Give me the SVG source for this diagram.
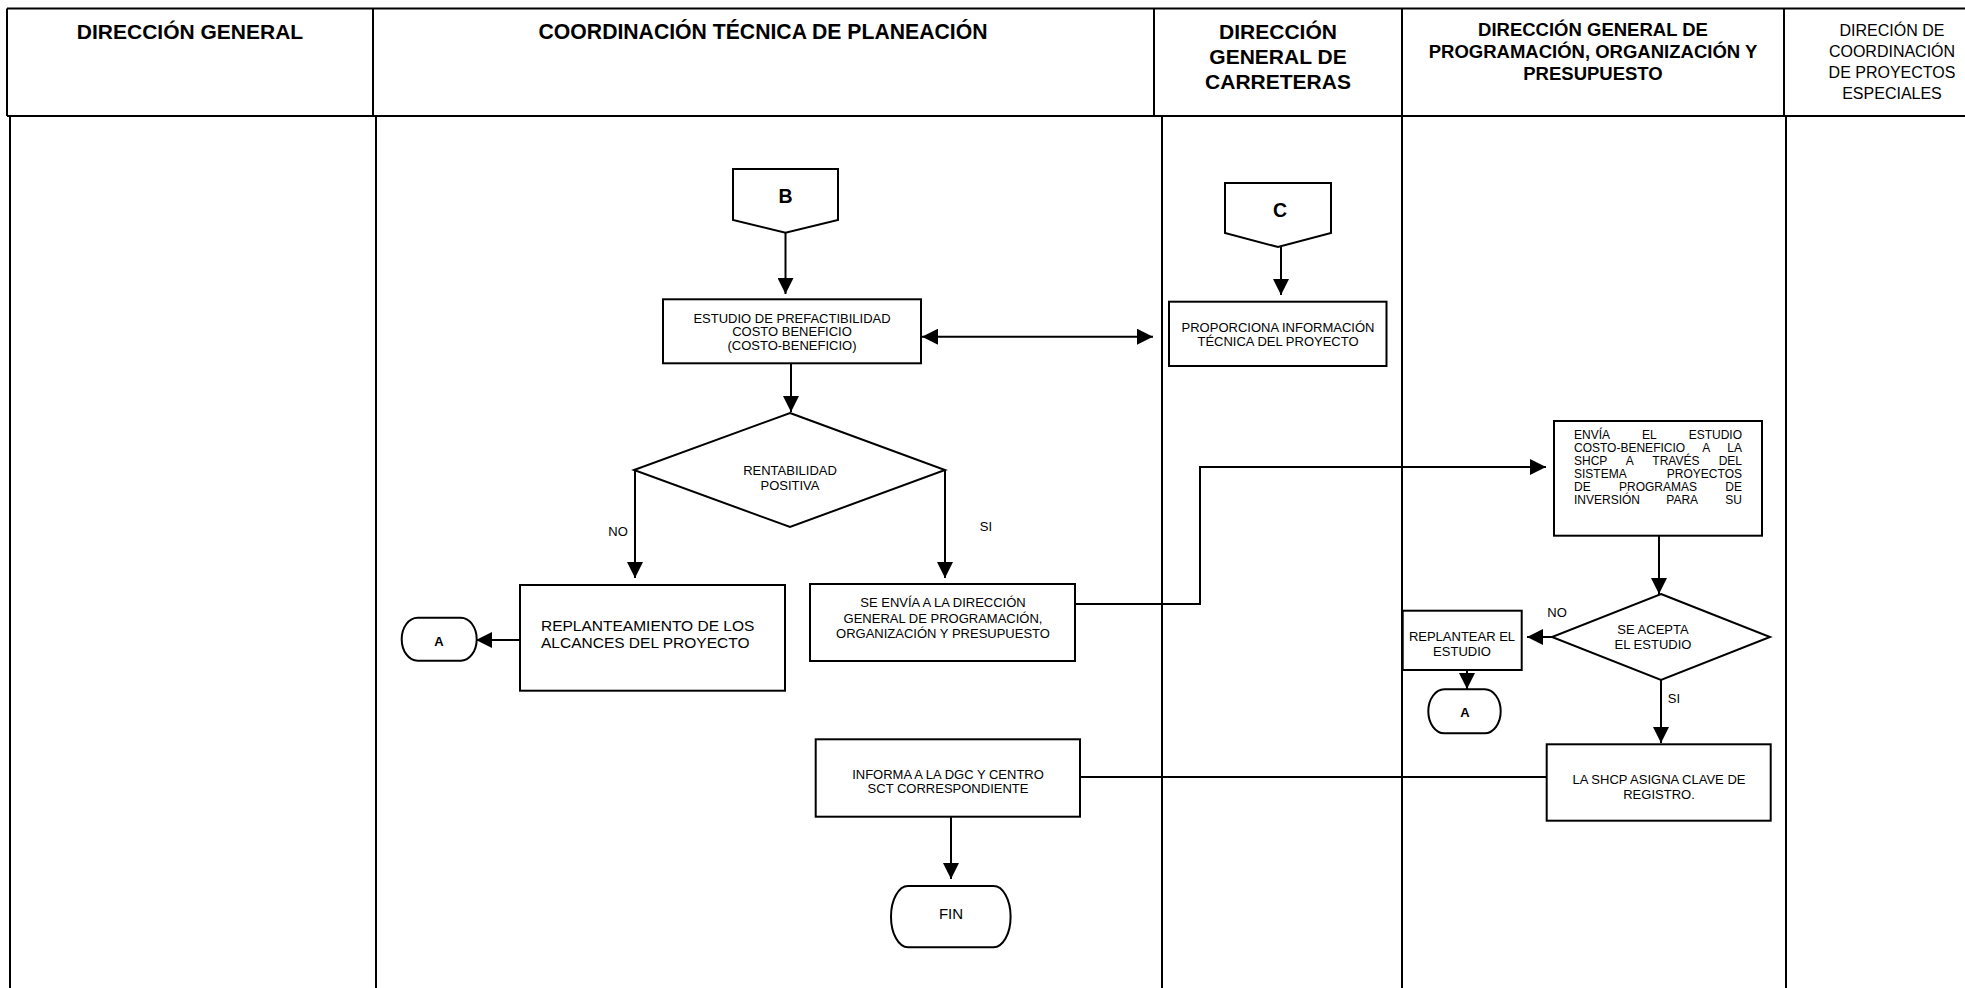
<svg xmlns="http://www.w3.org/2000/svg" width="1965" height="988" viewBox="0 0 1965 988">
<style>
.lane{stroke:#000;stroke-width:2;fill:none}
.shape{fill:#fff;stroke:#000;stroke-width:2}
.conn{stroke:#000;stroke-width:2;fill:none}
.hb{font-family:"Liberation Sans",Arial,sans-serif;font-weight:bold;text-anchor:middle;fill:#000}
.hr{font-family:"Liberation Sans",Arial,sans-serif;text-anchor:middle;fill:#000}
.t{font-family:"Liberation Sans",Arial,sans-serif;font-size:13px;text-anchor:middle;fill:#000}
.j{font-family:"Liberation Sans",Arial,sans-serif;font-size:12px;fill:#000}
</style>
<defs>
<marker id="ah" viewBox="0 0 16 16" refX="16" refY="8" markerWidth="16" markerHeight="16" markerUnits="userSpaceOnUse" orient="auto-start-reverse">
<path d="M0,0 L16,8 L0,16 z" fill="#000"/>
</marker>
</defs>
<rect width="1965" height="988" fill="#fff"/>
<g id="lanes">
<path class="lane" d="M7,8.5 H1965 M7,8.5 V116 M7,116 H1965 M373,8.5 V116 M1154,8.5 V116 M1402,8.5 V116 M1784,8.5 V116"/>
<path class="lane" d="M10,116 V988 M376,116 V988 M1162,116 V988 M1402,116 V988 M1786,116 V988"/>
<text class="hb" font-size="21" x="190" y="38.5">DIRECCIÓN GENERAL</text>
<text class="hb" font-size="21.2" x="763" y="38.5">COORDINACIÓN TÉCNICA DE PLANEACIÓN</text>
<text class="hb" font-size="21" x="1278" y="38.5">DIRECCIÓN</text>
<text class="hb" font-size="21" x="1278" y="63.5">GENERAL DE</text>
<text class="hb" font-size="21" x="1278" y="88.5">CARRETERAS</text>
<text class="hb" font-size="18.5" x="1593" y="35.5">DIRECCIÓN GENERAL DE</text>
<text class="hb" font-size="18.5" x="1593" y="57.5">PROGRAMACIÓN, ORGANIZACIÓN Y</text>
<text class="hb" font-size="18.5" x="1593" y="79.5">PRESUPUESTO</text>
<text class="hr" font-size="16" x="1892" y="36">DIRECIÓN DE</text>
<text class="hr" font-size="16" x="1892" y="57">COORDINACIÓN</text>
<text class="hr" font-size="16" x="1892" y="78">DE PROYECTOS</text>
<text class="hr" font-size="16" x="1892" y="99">ESPECIALES</text>
</g>
<g id="connectors">
<path class="conn" d="M785.5,233 V294" marker-end="url(#ah)"/>
<path class="conn" d="M1281,247 V295" marker-end="url(#ah)"/>
<path class="conn" d="M922,336.7 H1153" marker-start="url(#ah)" marker-end="url(#ah)"/>
<path class="conn" d="M791,364 V412" marker-end="url(#ah)"/>
<path class="conn" d="M635,470 V578" marker-end="url(#ah)"/>
<path class="conn" d="M945,470 V578" marker-end="url(#ah)"/>
<path class="conn" d="M520,640 H476" marker-end="url(#ah)"/>
<path class="conn" d="M1075,604 H1200 V467 H1546" marker-end="url(#ah)"/>
<path class="conn" d="M1659,536 V594" marker-end="url(#ah)"/>
<path class="conn" d="M1552,637 H1527" marker-end="url(#ah)"/>
<path class="conn" d="M1467,670 V689" marker-end="url(#ah)"/>
<path class="conn" d="M1661,680 V743" marker-end="url(#ah)"/>
<path class="conn" d="M1547,777 H1080"/>
<path class="conn" d="M951,817 V879" marker-end="url(#ah)"/>
<text class="t" x="618" y="535.5">NO</text>
<text class="t" x="986" y="530.5">SI</text>
<text class="t" x="1557" y="617">NO</text>
<text class="t" x="1674" y="703">SI</text>
</g>
<g id="node-b">
<polygon class="shape" points="733,169 838,169 838,220 785.5,232.7 733,220"/>
<text class="hb" font-size="19.5" x="785.5" y="203.3">B</text>
</g>
<g id="node-c">
<polygon class="shape" points="1225,183 1331,183 1331,233 1278,247 1225,233"/>
<text class="hb" font-size="19.5" x="1280" y="217">C</text>
</g>
<g id="node-estudio">
<rect class="shape" x="663" y="299.3" width="258" height="64"/>
<text class="t" x="792" y="322.6">ESTUDIO DE PREFACTIBILIDAD</text>
<text class="t" x="792" y="336.1">COSTO BENEFICIO</text>
<text class="t" x="792" y="349.6">(COSTO-BENEFICIO)</text>
</g>
<g id="node-proporciona">
<rect class="shape" x="1169" y="301.7" width="217.5" height="64.3"/>
<text class="t" x="1278" y="331.6">PROPORCIONA INFORMACIÓN</text>
<text class="t" x="1278" y="345.6">TÉCNICA DEL PROYECTO</text>
</g>
<g id="node-rentabilidad">
<polygon class="shape" points="790,413 945,470 790,527 634,470"/>
<text class="t" x="790" y="475">RENTABILIDAD</text>
<text class="t" x="790" y="490">POSITIVA</text>
</g>
<g id="node-replanteamiento">
<rect class="shape" x="520" y="585" width="265" height="105.7"/>
<text font-family="Liberation Sans, Arial, sans-serif" font-size="15.5" x="541" y="630.7">REPLANTEAMIENTO DE LOS</text>
<text font-family="Liberation Sans, Arial, sans-serif" font-size="15.5" x="541" y="648.4">ALCANCES DEL PROYECTO</text>
</g>
<g id="node-a1">
<rect class="shape" x="401.7" y="617.7" width="75" height="43" rx="16" ry="21.5"/>
<text class="hb" font-size="13" x="439" y="646">A</text>
</g>
<g id="node-seenvia">
<rect class="shape" x="810" y="584" width="265" height="77"/>
<text class="t" x="943" y="607.3">SE ENVÍA A LA DIRECCIÓN</text>
<text class="t" x="943" y="622.6">GENERAL DE PROGRAMACIÓN,</text>
<text class="t" x="943" y="637.6">ORGANIZACIÓN Y PRESUPUESTO</text>
</g>
<g id="node-envia">
<rect class="shape" x="1554" y="421" width="208" height="114.7"/>
<text class="j" y="439.3"><tspan x="1574">ENVÍA</tspan><tspan x="1642">EL</tspan><tspan x="1742" text-anchor="end">ESTUDIO</tspan></text>
<text class="j" y="452.3"><tspan x="1574">COSTO-BENEFICIO</tspan><tspan x="1702.2">A</tspan><tspan x="1742" text-anchor="end">LA</tspan></text>
<text class="j" y="465.3"><tspan x="1574">SHCP</tspan><tspan x="1625.8">A</tspan><tspan x="1652.3">TRAVÉS</tspan><tspan x="1742" text-anchor="end">DEL</tspan></text>
<text class="j" y="478.3"><tspan x="1574">SISTEMA</tspan><tspan x="1742" text-anchor="end">PROYECTOS</tspan></text>
<text class="j" y="491.3"><tspan x="1574">DE</tspan><tspan x="1619">PROGRAMAS</tspan><tspan x="1742" text-anchor="end">DE</tspan></text>
<text class="j" y="504.3"><tspan x="1574">INVERSIÓN</tspan><tspan x="1666.3">PARA</tspan><tspan x="1742" text-anchor="end">SU</tspan></text>
</g>
<g id="node-seacepta">
<polygon class="shape" points="1661,594 1770,637 1661,680 1552,637"/>
<text class="t" x="1653" y="633.9">SE ACEPTA</text>
<text class="t" x="1653" y="648.6">EL ESTUDIO</text>
</g>
<g id="node-replantear">
<rect class="shape" x="1402.7" y="610.7" width="119" height="59.3"/>
<text class="t" x="1462" y="641.3">REPLANTEAR EL</text>
<text class="t" x="1462" y="655.6">ESTUDIO</text>
</g>
<g id="node-a2">
<rect class="shape" x="1428.3" y="689.3" width="72.4" height="44" rx="16" ry="22"/>
<text class="hb" font-size="13" x="1465" y="717">A</text>
</g>
<g id="node-shcp">
<rect class="shape" x="1546.7" y="744.3" width="224" height="76.4"/>
<text class="t" x="1659" y="783.6">LA SHCP ASIGNA CLAVE DE</text>
<text class="t" x="1659" y="798.9">REGISTRO.</text>
</g>
<g id="node-informa">
<rect class="shape" x="815.7" y="739.3" width="264.3" height="77.4"/>
<text class="t" x="948" y="778.6">INFORMA A LA DGC Y CENTRO</text>
<text class="t" x="948" y="792.9">SCT CORRESPONDIENTE</text>
</g>
<g id="node-fin">
<rect class="shape" x="891" y="886" width="119.6" height="61.3" rx="17" ry="30.6"/>
<text class="hr" font-size="15" x="951" y="918.5">FIN</text>
</g>
</svg>
